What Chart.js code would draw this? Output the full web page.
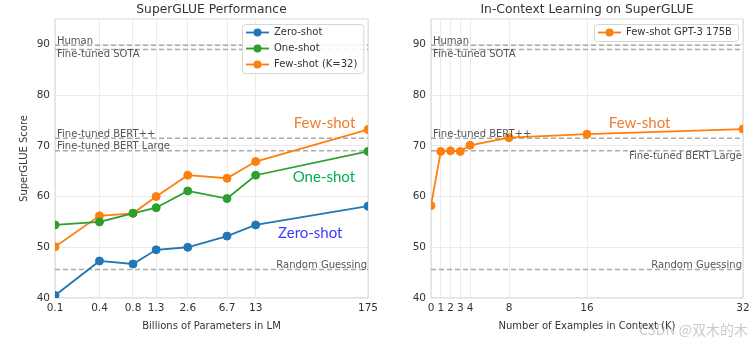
<!DOCTYPE html>
<html>
<head>
<meta charset="utf-8">
<script src="https://cdn.jsdelivr.net/npm/chart.js@4.4.1/dist/chart.umd.min.js"></script>
<style>
  html, body { margin: 0; padding: 0; background: #fff; }
  #wrap { position: relative; width: 756px; height: 344px; }
  #wrap canvas { position: absolute; top: 0; }
</style>
</head>
<body>
<div id="wrap">
  <canvas id="left" width="378" height="344" style="left:0"></canvas>
  <canvas id="right" width="378" height="344" style="left:378px"></canvas>
</div>
<script>
// model sizes in billions of params, and the labels printed under them
const modelSizes = [0.125, 0.35, 0.76, 1.3, 2.7, 6.7, 13, 175];
const sizeLabels = ['0.1', '0.4', '0.8', '1.3', '2.6', '6.7', '13', '175'];
const zeroShot = [40.5, 47.3, 46.7, 49.5, 50.0, 52.2, 54.4, 58.1];
const oneShot  = [54.4, 55.0, 56.7, 57.8, 61.1, 59.6, 64.2, 68.9];
const fewShot  = [50.1, 56.2, 56.7, 60.0, 64.2, 63.6, 66.9, 73.2];

// number of in-context examples K, GPT-3 175B
const shotsK   = [0, 1, 2, 3, 4, 8, 16, 32];
const fewShotK = [58.2, 68.9, 69.0, 68.9, 70.1, 71.6, 72.3, 73.3];

const yTicks = [40, 50, 60, 70, 80, 90];

// reference scores (dashed lines)
const refNames  = ['Human', 'Fine-tuned SOTA', 'Fine-tuned BERT++', 'Fine-tuned BERT Large', 'Random Guessing'];
const refScores = [89.8, 89.0, 71.5, 69.0, 45.6];

const font = { family: 'DejaVu Sans', size: 10 };
const textColor = '#333';
const gridColor = '#ebebeb';

function series(label, xs, ys, color) {
    return {
        label: label,
        data: xs.map((x, i) => ({ x: x, y: ys[i] })),
        borderColor: color,
        backgroundColor: color,
        borderWidth: 1.8,
        pointRadius: 4,
        pointBorderWidth: 1,
        pointBackgroundColor: color,
        clip: 0
    };
}

function refLine(v, lo, hi) {
    return {
        isRef: true,
        label: '',
        data: [{ x: lo, y: v }, { x: hi, y: v }],
        borderColor: '#a9a9a9',
        borderWidth: 1.5,
        borderDash: [5, 3],
        pointRadius: 0
    };
}

// light frame round the plot area
const frame = {
    id: 'frame',
    beforeDatasetsDraw(chart) {
        const { ctx, chartArea: a } = chart;
        ctx.save();
        ctx.strokeStyle = '#d9d9d9';
        ctx.lineWidth = 1;
        ctx.strokeRect(a.left, a.top, a.right - a.left, a.bottom - a.top);
        ctx.restore();
    }
};

// names next to the dashed reference lines
const refLabels = {
    id: 'refLabels',
    afterDatasetsDraw(chart, args, opts) {
        const { ctx, chartArea: a, scales: { y } } = chart;
        ctx.save();
        ctx.font = '10px "DejaVu Sans"';
        ctx.fillStyle = '#555';
        opts.place.forEach((p, i) => {
            const py = y.getPixelForValue(refScores[i]);
            const right = p[0] === 'r';
            const above = p[1] === 'a';
            ctx.textAlign = right ? 'right' : 'left';
            ctx.textBaseline = above ? 'alphabetic' : 'top';
            ctx.fillText(refNames[i], right ? a.right - 1 : a.left + 2, above ? py - 1.5 : py + 0.5);
        });
        ctx.restore();
    }
};

// big coloured words placed in data coordinates
const callouts = {
    id: 'callouts',
    afterDatasetsDraw(chart, args, opts) {
        const { ctx, scales: { x, y } } = chart;
        ctx.save();
        ctx.font = '15px Lato';
        ctx.textAlign = 'center';
        ctx.textBaseline = 'middle';
        opts.items.forEach(it => {
            ctx.fillStyle = it.color;
            ctx.fillText(it.text, x.getPixelForValue(it.x), y.getPixelForValue(it.y));
        });
        ctx.restore();
    }
};

// boxed legend in the upper right corner of the plot
const boxLegend = {
    id: 'boxLegend',
    afterDraw(chart) {
        const { ctx, chartArea: a } = chart;
        const items = chart.data.datasets.filter(d => !d.isRef);
        ctx.save();
        ctx.font = '10px "DejaVu Sans"';
        const tw = Math.max(...items.map(d => ctx.measureText(d.label).width));
        const w = 32 + tw + 6, h = items.length * 16 + 1;
        const bx = Math.round(a.right - 5 - w), by = Math.round(a.top + 5);
        ctx.fillStyle = 'rgba(255,255,255,0.85)';
        ctx.strokeStyle = '#d6d6d6';
        ctx.lineWidth = 1;
        ctx.beginPath();
        ctx.roundRect(bx + 0.5, by + 0.5, w, h, 3);
        ctx.fill();
        ctx.stroke();
        items.forEach((d, i) => {
            const cy = by + 8.5 + i * 16;
            ctx.strokeStyle = d.borderColor;
            ctx.lineWidth = 1.8;
            ctx.beginPath();
            ctx.moveTo(bx + 4, cy);
            ctx.lineTo(bx + 27, cy);
            ctx.stroke();
            ctx.fillStyle = d.borderColor;
            ctx.beginPath();
            ctx.arc(bx + 15.5, cy, 4, 0, Math.PI * 2);
            ctx.fill();
            ctx.fillStyle = textColor;
            ctx.textAlign = 'left';
            ctx.textBaseline = 'middle';
            ctx.fillText(d.label, bx + 32, cy);
        });
        ctx.restore();
    }
};

const watermark = {
    id: 'watermark',
    afterDraw(chart, args, opts) {
        if (!opts.text) return;
        const ctx = chart.ctx;
        ctx.save();
        ctx.font = '14px "Noto Sans CJK SC"';
        ctx.fillStyle = 'rgba(150,150,150,0.5)';
        ctx.textAlign = 'right';
        ctx.textBaseline = 'middle';
        ctx.fillText(opts.text, 370, 330);
        ctx.restore();
    }
};

function yScale(width, title) {
    return {
        min: 40,
        max: 95,
        afterBuildTicks: s => { s.ticks = yTicks.map(v => ({ value: v })); },
        afterFit: s => { s.width = width; s.paddingTop = 0; s.paddingBottom = 0; },
        ticks: { padding: 5, color: textColor, font: { family: 'DejaVu Sans', size: 10.5 } },
        grid: { color: gridColor, drawTicks: false },
        border: { display: false },
        title: { display: !!title, text: title, color: textColor, font: font, padding: 0 }
    };
}

function xScale(type, ticks, labels, title) {
    return {
        type: type,
        min: ticks[0],
        max: ticks[ticks.length - 1],
        afterBuildTicks: s => { s.ticks = ticks.map(v => ({ value: v })); },
        afterFit: s => { s.height = 34; s.paddingLeft = 0; s.paddingRight = 0; },
        ticks: {
            callback: (v, i) => labels[i],
            autoSkip: false, maxRotation: 0, padding: 4,
            color: textColor, font: { family: 'DejaVu Sans', size: 10.5 }
        },
        grid: { color: gridColor, drawTicks: false },
        border: { display: false },
        title: { display: true, text: title, color: textColor, font: font, padding: 0 }
    };
}

function titleOpts(text) {
    return {
        display: true, text: text, fullSize: false, color: textColor,
        font: { family: 'DejaVu Sans', size: 12.3, weight: 'normal' },
        padding: { top: 2.2, bottom: 2 }
    };
}

new Chart(document.getElementById('left'), {
    type: 'line',
    data: {
        datasets: [
            series('Zero-shot', modelSizes, zeroShot, '#1f77b4'),
            series('One-shot', modelSizes, oneShot, '#2ca02c'),
            series('Few-shot (K=32)', modelSizes, fewShot, '#ff7f0e'),
            ...refScores.map(v => refLine(v, modelSizes[0], modelSizes[modelSizes.length - 1]))
        ]
    },
    options: {
        responsive: false,
        animation: false,
        layout: { padding: { left: 18, right: 10, top: 0, bottom: 12 } },
        scales: {
            x: xScale('logarithmic', modelSizes, sizeLabels, 'Billions of Parameters in LM'),
            y: yScale(37, 'SuperGLUE Score')
        },
        plugins: {
            legend: { display: false },
            tooltip: { enabled: false },
            title: titleOpts('SuperGLUE Performance'),
            refLabels: { place: ['la', 'lb', 'la', 'la', 'ra'] },
            callouts: {
                items: [
                    { text: 'Few-shot', x: 64, y: 74.5, color: '#ed7d31' },
                    { text: 'One-shot', x: 63, y: 63.85, color: '#00b050' },
                    { text: 'Zero-shot', x: 46, y: 52.8, color: '#3c3cff' }
                ]
            },
            watermark: { text: '' }
        }
    },
    plugins: [frame, refLabels, callouts, boxLegend, watermark]
});

new Chart(document.getElementById('right'), {
    type: 'line',
    data: {
        datasets: [
            series('Few-shot GPT-3 175B', shotsK, fewShotK, '#ff7f0e'),
            ...refScores.map(v => refLine(v, shotsK[0], shotsK[shotsK.length - 1]))
        ]
    },
    options: {
        responsive: false,
        animation: false,
        layout: { padding: { left: 0, right: 13, top: 0, bottom: 12 } },
        scales: {
            x: xScale('linear', shotsK, shotsK.map(String), 'Number of Examples in Context (K)'),
            y: yScale(53, '')
        },
        plugins: {
            legend: { display: false },
            tooltip: { enabled: false },
            title: titleOpts('In-Context Learning on SuperGLUE'),
            refLabels: { place: ['la', 'lb', 'la', 'rb', 'ra'] },
            callouts: {
                items: [
                    { text: 'Few-shot', x: 21.4, y: 74.5, color: '#ed7d31' }
                ]
            },
            watermark: { text: 'CSDN @双木的木' }
        }
    },
    plugins: [frame, refLabels, callouts, boxLegend, watermark]
});
</script>
</body>
</html>
